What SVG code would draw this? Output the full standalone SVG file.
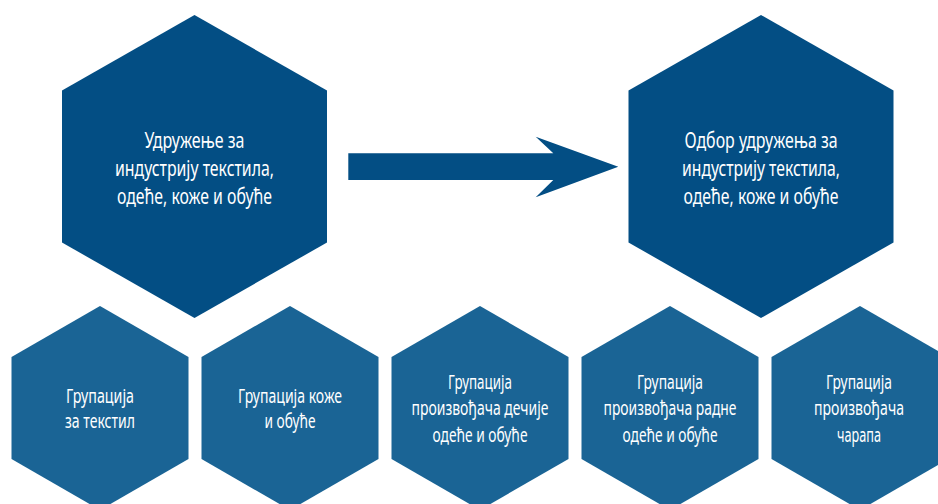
<svg xmlns="http://www.w3.org/2000/svg" width="938" height="504" viewBox="0 0 938 504">
<style>
.big{fill:#034e84}
.small{fill:#1a6495}
text{font-family:"Noto Sans","Liberation Sans",sans-serif;fill:#ffffff;text-anchor:middle}
.t1{font-size:22px}
.t2{font-size:19px}
</style>
<defs>
<polygon id="hexL" points="0,-151.5 132.5,-76 132.5,76 0,151.5 -132.5,76 -132.5,-76"/>
<polygon id="hexS" points="0,-102 88.5,-51 88.5,51 0,102 -88.5,51 -88.5,-51"/>
</defs>
<g id="connectors">
<polygon class="big" points="348.3,153.3 553.3,153.3 535.7,136.7 618.3,166.7 535.7,197.3 553.3,180 348.3,180"/>
</g>
<g id="node-udruzenje">
<use href="#hexL" class="big" x="194.5" y="166.5"/>
<text class="t1"><tspan x="194.5" y="148" textLength="100" lengthAdjust="spacingAndGlyphs">Удружење за</tspan><tspan x="194.5" y="176" textLength="159" lengthAdjust="spacingAndGlyphs">индустрију текстила,</tspan><tspan x="194.5" y="204" textLength="155" lengthAdjust="spacingAndGlyphs">одеће, коже и обуће</tspan></text>
</g>
<g id="node-odbor">
<use href="#hexL" class="big" x="761" y="166.5"/>
<text class="t1"><tspan x="761" y="148" textLength="153" lengthAdjust="spacingAndGlyphs">Одбор удружења за</tspan><tspan x="761" y="176" textLength="158" lengthAdjust="spacingAndGlyphs">индустрију текстила,</tspan><tspan x="761" y="204" textLength="155" lengthAdjust="spacingAndGlyphs">одеће, коже и обуће</tspan></text>
</g>
<g id="node-tekstil">
<use href="#hexS" class="small" x="100" y="408"/>
<text class="t2"><tspan x="100" y="403" textLength="68" lengthAdjust="spacingAndGlyphs">Групација</tspan><tspan x="100" y="428" textLength="70" lengthAdjust="spacingAndGlyphs">за текстил</tspan></text>
</g>
<g id="node-koza">
<use href="#hexS" class="small" x="290" y="408"/>
<text class="t2"><tspan x="290" y="403" textLength="104" lengthAdjust="spacingAndGlyphs">Групација коже</tspan><tspan x="290" y="428" textLength="51" lengthAdjust="spacingAndGlyphs">и обуће</tspan></text>
</g>
<g id="node-decija">
<use href="#hexS" class="small" x="480" y="408"/>
<text class="t2"><tspan x="480" y="388.5" textLength="64" lengthAdjust="spacingAndGlyphs">Групација</tspan><tspan x="480" y="415" textLength="137" lengthAdjust="spacingAndGlyphs">произвођача дечије</tspan><tspan x="480" y="441.5" textLength="95" lengthAdjust="spacingAndGlyphs">одеће и обуће</tspan></text>
</g>
<g id="node-radna">
<use href="#hexS" class="small" x="670" y="408"/>
<text class="t2"><tspan x="670" y="388.5" textLength="66" lengthAdjust="spacingAndGlyphs">Групација</tspan><tspan x="670" y="415" textLength="133" lengthAdjust="spacingAndGlyphs">произвођача радне</tspan><tspan x="670" y="441.5" textLength="95" lengthAdjust="spacingAndGlyphs">одеће и обуће</tspan></text>
</g>
<g id="node-carape">
<use href="#hexS" class="small" x="860" y="408"/>
<text class="t2"><tspan x="859" y="388.5" textLength="66" lengthAdjust="spacingAndGlyphs">Групација</tspan><tspan x="859" y="415" textLength="90" lengthAdjust="spacingAndGlyphs">произвођача</tspan><tspan x="859" y="441.5" textLength="44" lengthAdjust="spacingAndGlyphs">чарапа</tspan></text>
</g>
</svg>
